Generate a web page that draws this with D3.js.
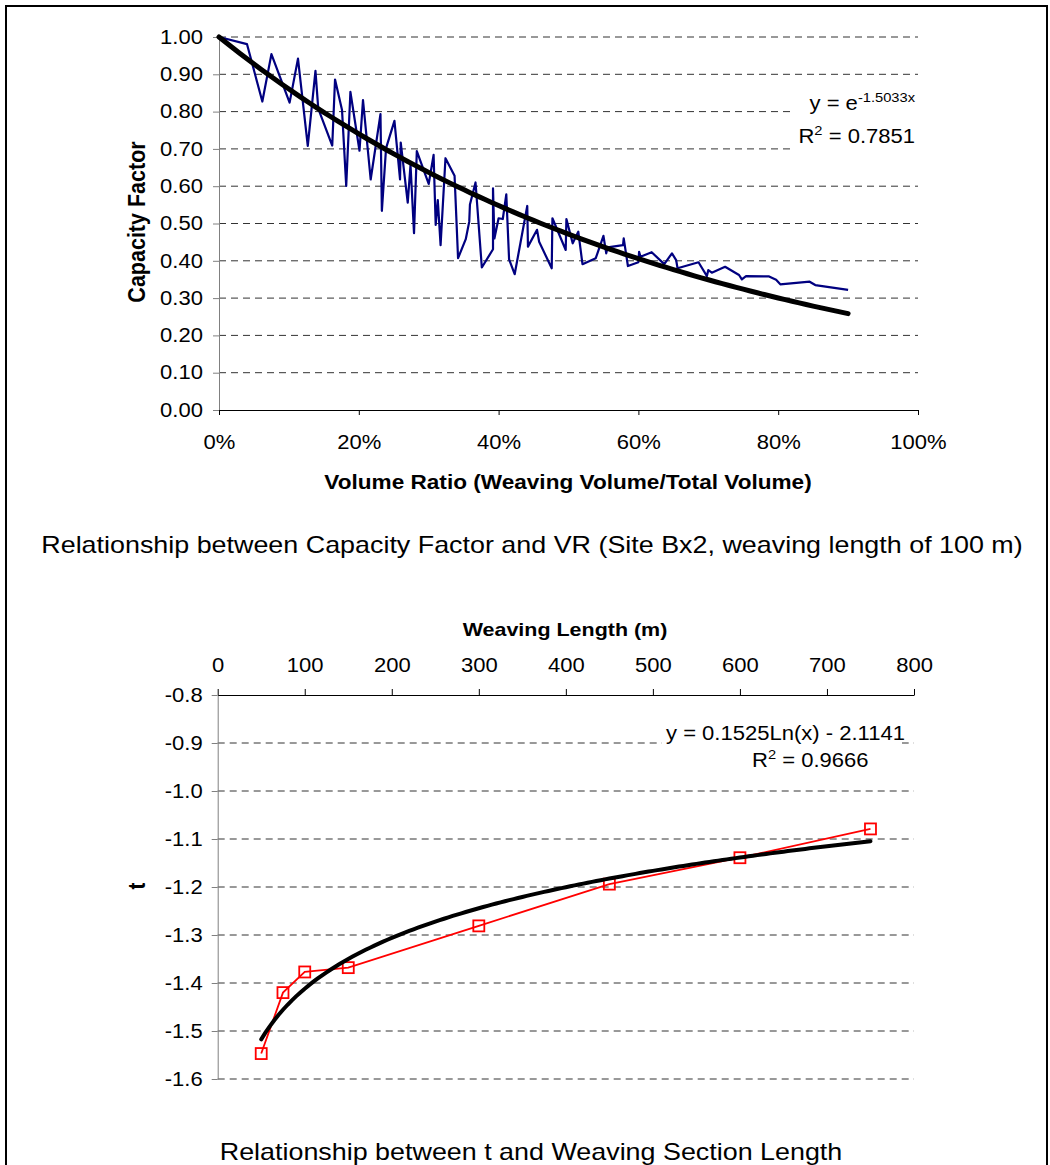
<!DOCTYPE html>
<html>
<head>
<meta charset="utf-8">
<script src="https://cdn.jsdelivr.net/npm/d3@7"></script>
<style>
  body { margin: 0; background: #fff; }
  svg { display: block; font-family: "Liberation Sans", Arial, sans-serif; }
</style>
</head>
<body>
<svg id="chart" width="1050" height="1165"></svg>
<script>
// top chart: capacity factor vs volume ratio (site Bx2, 100 m)
const volumeRatio = [
  0.000, 0.040, 0.062, 0.075, 0.101, 0.113, 0.127, 0.138, 0.142, 0.162,
  0.166, 0.176, 0.182, 0.188, 0.201, 0.206, 0.217, 0.231, 0.233, 0.239,
  0.251, 0.259, 0.260, 0.270, 0.274, 0.279, 0.283, 0.300, 0.307, 0.310,
  0.313, 0.317, 0.324, 0.337, 0.342, 0.353, 0.358, 0.359, 0.367, 0.376,
  0.392, 0.392, 0.394, 0.400, 0.406, 0.411, 0.415, 0.423, 0.441, 0.442,
  0.455, 0.458, 0.476, 0.477, 0.496, 0.497, 0.506, 0.514, 0.520, 0.539,
  0.550, 0.554, 0.556, 0.578, 0.579, 0.585, 0.600, 0.601, 0.603, 0.619,
  0.637, 0.648, 0.654, 0.656, 0.686, 0.698, 0.700, 0.705, 0.724, 0.744,
  0.748, 0.754, 0.787, 0.797, 0.803, 0.845, 0.853, 0.900
];
const capacityFactor = [
  1.000, 0.981, 0.827, 0.954, 0.824, 0.942, 0.708, 0.909, 0.808, 0.709,
  0.886, 0.804, 0.601, 0.853, 0.695, 0.831, 0.618, 0.793, 0.534, 0.702,
  0.775, 0.618, 0.717, 0.556, 0.657, 0.474, 0.694, 0.606, 0.684, 0.496,
  0.563, 0.442, 0.675, 0.628, 0.407, 0.458, 0.505, 0.551, 0.610, 0.382,
  0.431, 0.594, 0.460, 0.514, 0.512, 0.578, 0.404, 0.364, 0.547, 0.438,
  0.483, 0.451, 0.380, 0.514, 0.429, 0.512, 0.447, 0.478, 0.391, 0.407,
  0.467, 0.420, 0.436, 0.442, 0.460, 0.386, 0.396, 0.424, 0.411, 0.423,
  0.391, 0.420, 0.402, 0.380, 0.396, 0.359, 0.375, 0.368, 0.384, 0.362,
  0.350, 0.359, 0.358, 0.349, 0.337, 0.344, 0.335, 0.322
];
const cfTicks = [0, 0.1, 0.2, 0.3, 0.4, 0.5, 0.6, 0.7, 0.8, 0.9, 1.0];
const vrTicks = [0, 0.2, 0.4, 0.6, 0.8, 1.0];
const expCoef = -1.5033;      // y = e^(-1.5033x)
const expRange = [0, 0.9];

// bottom chart: t vs weaving length
const weavingLength = [50, 75, 100, 150, 300, 450, 600, 750];
const tValue = [-1.547, -1.420, -1.377, -1.368, -1.281, -1.194, -1.139, -1.079];
const lengthTicks = [0, 100, 200, 300, 400, 500, 600, 700, 800];
const tTicks = [-0.8, -0.9, -1.0, -1.1, -1.2, -1.3, -1.4, -1.5, -1.6];
const lnSlope = 0.1525, lnIntercept = -2.1141;   // y = 0.1525Ln(x) - 2.1141
const lnRange = [50, 750];

const K = 1.13;   // text in the source is a little wider than plain Arial
const svg = d3.select("#chart");

// page frame
svg.append("rect")
  .attr("x", 6).attr("y", 6).attr("width", 1041).attr("height", 1200)
  .attr("fill", "none").attr("stroke", "#000").attr("stroke-width", 2);

function stretch(sel) {
  sel.each(function () {
    const t = d3.select(this);
    const x = +t.attr("x") || 0, y = +t.attr("y") || 0;
    t.attr("x", 0).attr("y", 0).attr("transform", `translate(${x},${y}) scale(${K},1)`);
  });
}

function label(x, y, str, size, opts = {}) {
  return svg.append("text")
    .attr("transform", opts.rotate
      ? `translate(${x},${y}) rotate(-90) scale(1,${K})`
      : `translate(${x},${y}) scale(${K},1)`)
    .attr("text-anchor", opts.anchor || "middle")
    .attr("font-size", size)
    .attr("font-weight", opts.bold ? "bold" : null)
    .attr("fill", "#000")
    .text(str);
}

function styleAxis(g, color) {
  g.attr("font-size", 19.5).attr("font-family", null);
  g.select(".domain").attr("stroke", color);
  g.selectAll(".tick line").attr("stroke", color);
  g.selectAll(".tick text").attr("fill", "#000").call(stretch);
}

// ---------- top chart ----------
const x1 = d3.scaleLinear().domain([0, 1]).range([219, 918]);
const y1 = d3.scaleLinear().domain([0, 1]).range([410, 37]);

svg.append("g").selectAll("line")
  .data(cfTicks.filter(d => d > 0))
  .join("line")
  .attr("x1", x1(0)).attr("x2", x1(1))
  .attr("y1", d => y1(d)).attr("y2", d => y1(d))
  .attr("stroke", "#333").attr("stroke-dasharray", "7,5");

// equation box hides the gridlines behind it
svg.append("rect").attr("x", 795).attr("y", 84).attr("width", 126).attr("height", 68).attr("fill", "#fff");

svg.append("g")
  .attr("transform", `translate(${x1(0)},0)`)
  .call(d3.axisLeft(y1).tickValues(cfTicks).tickFormat(d => d.toFixed(2)).tickSize(6).tickSizeOuter(0).tickPadding(10))
  .call(g => styleAxis(g, "#808080"));

svg.append("g")
  .attr("transform", `translate(0,${y1(0)})`)
  .call(d3.axisBottom(x1).tickValues(vrTicks).tickFormat(d3.format(".0%")).tickSize(5).tickSizeOuter(0).tickPadding(20))
  .call(g => styleAxis(g, "#000"));

const cfLine = d3.line().x(d => x1(d[0])).y(d => y1(d[1]));
svg.append("path")
  .datum(volumeRatio.map((v, i) => [v, capacityFactor[i]]))
  .attr("d", cfLine)
  .attr("fill", "none").attr("stroke", "#000080").attr("stroke-width", 2.2)
  .attr("stroke-linejoin", "round");

const expFit = d3.range(expRange[0], expRange[1] + 0.001, 0.01).map(v => [v, Math.exp(expCoef * v)]);
svg.append("path")
  .datum(expFit)
  .attr("d", cfLine)
  .attr("fill", "none").attr("stroke", "#000").attr("stroke-width", 5)
  .attr("stroke-linecap", "round");

const eq1 = label(915, 110, "y = e", 19.5, { anchor: "end" });
eq1.append("tspan").attr("font-size", 13).attr("dy", -8).text("-1.5033x");
const r1 = label(915, 143, "R", 19.5, { anchor: "end" });
r1.append("tspan").attr("font-size", 13).attr("dy", -8).text("2");
r1.append("tspan").attr("dy", 8).text(" = 0.7851");

label(568, 489, "Volume Ratio (Weaving Volume/Total Volume)", 20, { bold: true });
label(145, 222, "Capacity Factor", 21.5, { bold: true, rotate: true });
label(532, 553, "Relationship between Capacity Factor and VR (Site Bx2, weaving length of 100 m)", 23.8);

// ---------- bottom chart ----------
const x2 = d3.scaleLinear().domain([0, 800]).range([217.7, 914]);
const y2 = d3.scaleLinear().domain([-1.6, -0.8]).range([1079, 695]);

svg.append("g").selectAll("line")
  .data(tTicks.filter(d => d < -0.8))
  .join("line")
  .attr("x1", x2(0)).attr("x2", x2(800))
  .attr("y1", d => y2(d)).attr("y2", d => y2(d))
  .attr("stroke", "#333").attr("stroke-dasharray", "7,5");

svg.append("rect").attr("x", 662).attr("y", 718).attr("width", 240).attr("height", 54).attr("fill", "#fff");

svg.append("g")
  .attr("transform", `translate(${x2(0)},0)`)
  .call(d3.axisLeft(y2).tickValues(tTicks).tickFormat(d => d.toFixed(1)).tickSize(6).tickSizeOuter(0).tickPadding(9))
  .call(g => styleAxis(g, "#808080"));

svg.append("g")
  .attr("transform", `translate(0,${y2(-0.8)})`)
  .call(d3.axisTop(x2).tickValues(lengthTicks).tickFormat(d => d).tickSize(6).tickSizeOuter(0).tickPadding(17))
  .call(g => styleAxis(g, "#000"));

const tLine = d3.line().x(d => x2(d[0])).y(d => y2(d[1]));
const tData = weavingLength.map((v, i) => [v, tValue[i]]);
svg.append("path")
  .datum(tData)
  .attr("d", tLine)
  .attr("fill", "none").attr("stroke", "#ff0000").attr("stroke-width", 1.8);

svg.append("g").selectAll("rect")
  .data(tData)
  .join("rect")
  .attr("x", d => x2(d[0]) - 5.5).attr("y", d => y2(d[1]) - 5.5)
  .attr("width", 11).attr("height", 11)
  .attr("fill", "none").attr("stroke", "#ff0000").attr("stroke-width", 1.8);

const lnFit = d3.range(lnRange[0], lnRange[1] + 1, 5).map(v => [v, lnSlope * Math.log(v) + lnIntercept]);
svg.append("path")
  .datum(lnFit)
  .attr("d", tLine)
  .attr("fill", "none").attr("stroke", "#000").attr("stroke-width", 4)
  .attr("stroke-linecap", "round");

label(666, 740, "y = 0.1525Ln(x) - 2.1141", 19.5, { anchor: "start" });
const r2 = label(752, 767, "R", 19.5, { anchor: "start" });
r2.append("tspan").attr("font-size", 13).attr("dy", -8).text("2");
r2.append("tspan").attr("dy", 8).text(" = 0.9666");

label(565, 636, "Weaving Length (m)", 19, { bold: true });
label(145, 886, "t", 20.5, { bold: true, rotate: true });
label(531, 1160, "Relationship between t and Weaving Section Length", 23.8);
</script>
</body>
</html>
